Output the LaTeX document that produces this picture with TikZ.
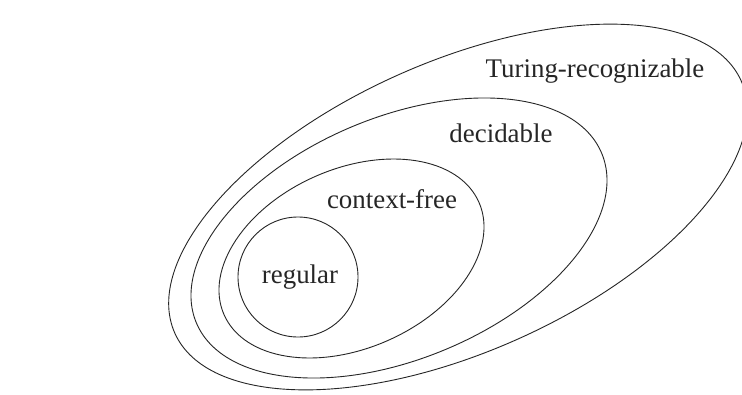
\documentclass[tikz,border=0pt]{standalone}
\usepackage{fontspec}
\setmainfont{Liberation Serif}
\begin{document}
\begin{tikzpicture}[x=1pt,y=-1pt,
  setline/.style={draw=black!85,line width=0.9pt},
  lbl/.style={anchor=base,inner sep=0pt,font=\fontsize{26.9}{32}\selectfont,text=black!85}]
\useasboundingbox (0,0) rectangle (742,394);
\fill[white] (0,0) rectangle (742,394);
% Turing-recognizable
\draw[setline,rotate around={24:(458,207)}] (458,207) ellipse (310 and 145);
% decidable
\draw[setline,rotate around={22.7:(399,238)}] (399,238) ellipse (219.7 and 120.8);
% context-free
\draw[setline,rotate around={23.8:(351.5,258.5)}] (351.5,258.5) ellipse (139.3 and 89.7);
% regular
\draw[setline] (298,277) circle (60);
\node[lbl] (tr) at (595,77) {Turing-recognizable};
\node[lbl] (dc) at (501,142) {decidable};
\node[lbl] (cf) at (392,208) {context-free};
\node[lbl] (rg) at (300,283) {regular};
\end{tikzpicture}
\end{document}
